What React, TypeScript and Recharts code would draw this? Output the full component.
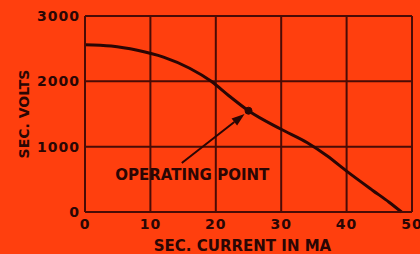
import React from 'react';
import {
  LineChart,
  Line,
  XAxis,
  YAxis,
  CartesianGrid,
  ReferenceLine,
  ReferenceDot,
} from 'recharts';

const current = [0, 4, 8, 12, 16, 19.3, 22, 25, 30, 34, 37, 40, 44, 46.5, 48.4];
const volts = [2560, 2540, 2475, 2370, 2200, 2000, 1780, 1550, 1266, 1060, 860, 625, 330, 150, 0];
const xTicks = [0, 10, 20, 30, 40, 50];
const yTicks = [0, 1000, 2000, 3000];

const opPoint = { x: 25, y: 1550 };
const arrowFrom = { x: 14.8, y: 750 };
const arrowTo = { x: 24.4, y: 1500 };

const data = current.map((c, i) => ({ current: c, volts: volts[i] }));

const BG = '#ff3f0e';
const INK = '#2a0604';
const GRID = '#4a0c06';
const FONT = '"DejaVu Sans", sans-serif';

const tickStyle = { fill: INK, fontSize: 14, fontWeight: 700, fontFamily: FONT, letterSpacing: 1 };

function Arrow(props: any) {
  const { x1, y1, x2, y2 } = props;
  if (x1 == null) return null;
  const ang = Math.atan2(y2 - y1, x2 - x1);
  const len = 13;
  const half = 4.5;
  const bx = x2 - len * Math.cos(ang);
  const by = y2 - len * Math.sin(ang);
  const px = -Math.sin(ang) * half;
  const py = Math.cos(ang) * half;
  return (
    <g>
      <line x1={x1} y1={y1} x2={bx} y2={by} stroke={INK} strokeWidth={2} />
      <polygon
        points={`${x2},${y2} ${bx + px},${by + py} ${bx - px},${by - py}`}
        fill={INK}
      />
    </g>
  );
}

export default function App() {
  return (
    <div style={{ position: 'fixed', left: 0, top: 0, width: 420, height: 254, background: BG }}>
      <LineChart
        width={420}
        height={254}
        data={data}
        margin={{ top: 16, right: 8, bottom: 0, left: 0 }}
      >
        <CartesianGrid stroke={GRID} strokeWidth={2} />
        <XAxis
          dataKey="current"
          type="number"
          domain={[0, 50]}
          ticks={xTicks}
          interval={0}
          height={42}
          tickLine={false}
          tickSize={0}
          tickMargin={7}
          axisLine={{ stroke: GRID, strokeWidth: 2 }}
          tick={tickStyle}
          label={{
            content: ({ viewBox }: any) => (
              <text
                x={viewBox.x + viewBox.width / 2 - 6}
                y={viewBox.y + 39}
                textAnchor="middle"
                fill={INK}
                fontSize={15}
                fontWeight={700}
                fontFamily={FONT}
              >
                SEC. CURRENT IN MA
              </text>
            ),
          }}
        />
        <YAxis
          type="number"
          domain={[0, 3000]}
          ticks={yTicks}
          interval={0}
          width={85}
          tickLine={false}
          tickSize={0}
          tickMargin={5}
          axisLine={{ stroke: GRID, strokeWidth: 2 }}
          tick={tickStyle}
          label={{
            content: ({ viewBox }: any) => {
              const cx = 24;
              const cy = viewBox.y + viewBox.height / 2;
              return (
                <text
                  x={cx}
                  y={cy}
                  transform={`rotate(-90 ${cx} ${cy})`}
                  textAnchor="middle"
                  dominantBaseline="central"
                  fill={INK}
                  fontSize={14}
                  fontWeight={700}
                  fontFamily={FONT}
                >
                  SEC. VOLTS
                </text>
              );
            },
          }}
        />
        <ReferenceLine y={3000} stroke={GRID} strokeWidth={2} />
        <ReferenceLine x={50} stroke={GRID} strokeWidth={2} />
        <Line
          type="monotone"
          dataKey="volts"
          stroke={INK}
          strokeWidth={3}
          dot={false}
          isAnimationActive={false}
        />
        <ReferenceLine segment={[arrowFrom, arrowTo]} shape={<Arrow />} />
        <ReferenceDot x={opPoint.x} y={opPoint.y} r={3.5} fill={INK} stroke={INK} />
        <ReferenceDot
          x={16.4}
          y={575}
          r={0}
          fill="none"
          stroke="none"
          label={{
            value: 'OPERATING POINT',
            position: 'center',
            fill: INK,
            fontSize: 15,
            fontWeight: 700,
            fontFamily: FONT,
          }}
        />
      </LineChart>
    </div>
  );
}
